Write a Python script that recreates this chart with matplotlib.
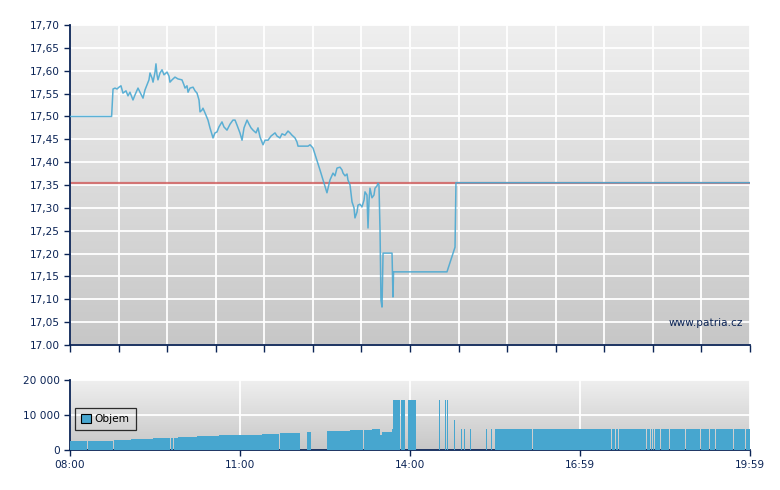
import numpy as np
import matplotlib
matplotlib.use("Agg")
import matplotlib.pyplot as plt
from matplotlib.colors import LinearSegmentedColormap
from matplotlib.patches import Patch

# ---- data ----
# minutes after 08:00
price_t = [0, 44, 45.5, 47.6, 49.7, 51.8, 53.9, 56.0, 59.2, 61.3, 63.4, 66.6, 68.7, 71.9, 74.0, 77.2,
           79.3, 81.4, 83.5, 84.6, 86.7, 87.8, 89.9, 90.9, 92.0, 93.0, 95.2, 97.3, 99.4, 102.6, 104.7,
           105.7, 107.9, 111.0, 114.2, 118.4, 120.5, 121.6, 123.7, 124.8, 126.9, 130.1, 132.2, 134.3,
           136.4, 137.5, 139.6, 140.6, 142.7, 145.9, 148.0, 151.2, 153.3, 155.4, 157.5, 160.7, 162.8,
           166.0, 169.2, 172.3, 174.5, 176.6, 179.7, 181.9, 184.0, 187.2, 189.3, 191.4, 193.5, 196.7,
           198.8, 200.9, 204.1, 206.2, 209.4, 212.5, 216.8, 218.9, 222.0, 224.2, 227.3, 230.5, 232.6,
           234.7, 237.9, 240.0, 241.1, 251.7, 253.8, 256.9, 264.3, 271.7, 274.9, 278.1, 280.2, 282.3,
           285.5, 287.6, 288.7, 290.8, 292.9, 293.9, 296.1, 298.2, 300.3, 301.3, 303.5, 304.5, 306.6,
           308.7, 310.9, 311.9, 314.0, 315.1, 316.2, 317.2, 319.3, 321.4, 322.5, 324.6, 325.7, 326.7,
           327.8, 328.8, 329.9, 331.0, 340.5, 341.5, 342.1, 398.6, 407.1, 408.1, 719]
price_v = [17.500, 17.500, 17.560, 17.562, 17.560, 17.564, 17.567, 17.551, 17.556, 17.545, 17.553,
           17.536, 17.547, 17.562, 17.553, 17.540, 17.558, 17.569, 17.580, 17.595, 17.584, 17.575,
           17.597, 17.615, 17.591, 17.580, 17.595, 17.602, 17.591, 17.597, 17.588, 17.575, 17.580,
           17.586, 17.582, 17.580, 17.569, 17.562, 17.567, 17.553, 17.562, 17.564, 17.556, 17.551,
           17.536, 17.510, 17.514, 17.518, 17.508, 17.492, 17.475, 17.453, 17.464, 17.466, 17.477,
           17.488, 17.477, 17.470, 17.483, 17.492, 17.492, 17.481, 17.464, 17.448, 17.475, 17.492,
           17.483, 17.475, 17.470, 17.464, 17.475, 17.455, 17.438, 17.448, 17.448, 17.457, 17.464,
           17.457, 17.453, 17.462, 17.459, 17.468, 17.464, 17.459, 17.453, 17.444, 17.435, 17.435,
           17.438, 17.431, 17.383, 17.333, 17.361, 17.376, 17.370, 17.387, 17.389, 17.383, 17.376,
           17.370, 17.374, 17.361, 17.350, 17.313, 17.300, 17.278, 17.291, 17.306, 17.308, 17.302,
           17.317, 17.335, 17.328, 17.256, 17.317, 17.343, 17.322, 17.328, 17.343, 17.348, 17.354,
           17.350, 17.252, 17.098, 17.083, 17.201, 17.201, 17.105, 17.160, 17.160, 17.214, 17.355,
           17.355]
ref_price = 17.355

vol_start = [0, 19, 46.5, 64.5, 88, 106.5, 110, 114, 134, 157.5, 203, 222, 250.5, 272, 296, 311,
             319, 328, 330, 340.5, 341.5, 350, 357.5, 390.5, 396.0, 398.1, 406.5, 413.0, 417.1,
             422.5, 439.4, 445.5,
             449.5, 490, 535.5, 573.5, 577, 580, 608.5, 610.5, 614, 616, 619, 624.5, 634, 651.5,
             667.5, 677, 683.5, 692, 702.5, 715]
vol_end = [18, 45, 64.5, 88, 106, 109, 114, 134, 157.5, 203, 221, 243, 255, 296, 310, 319,
           328, 330, 340.5, 341.5, 349, 354, 366, 391.56, 397.06, 399.16, 407.56, 414.06, 418.16,
           423.56, 440.46, 446.56,
           489, 534.5, 572.5, 576, 579, 607.5, 609.5, 613, 615, 618, 623.5, 633, 650.5, 666.5,
           676, 682.5, 691, 701.5, 714, 719.5]
vol_value = [2570, 2570, 2860, 3140, 3430, 3430, 3430, 3710, 4000, 4290, 4570, 4860, 5140, 5430,
             5710, 5710, 6000, 4290, 5140, 6000, 14290, 14290, 14290, 14290, 14290, 14290, 8570,
             6000, 6000, 6000, 6000, 6000,
             6000, 6000, 6000, 6000, 6000, 6000, 6000, 6000, 6000, 6000, 6000, 6000, 6000, 6000,
             6000, 6000, 6000, 6000, 6000, 6000]

price_ticks = [17.00, 17.05, 17.10, 17.15, 17.20, 17.25, 17.30, 17.35, 17.40, 17.45, 17.50, 17.55,
               17.60, 17.65, 17.70]
price_labels = ["17.00", "17,05", "17,10", "17,15", "17,20", "17,25", "17,30", "17,35", "17,40",
                "17,45", "17,50", "17,55", "17,60", "17,65", "17,70"]
time_ticks = [0, 180, 360, 539, 719]
time_labels = ["08:00", "11:00", "14:00", "16:59", "19:59"]
vol_ticks = [0, 10000, 20000]
vol_labels = ["0", "10 000", "20 000"]

# ---- style ----
NAVY = "#0b2456"
LINE = "#4ba9d2"
BAR = "#47a6cf"
plt.rcParams["font.family"] = ["DejaVu Sans"]
FS = 7.6

fig = plt.figure(figsize=(7.8, 4.9), dpi=100)
W, H = 780, 490
ax = fig.add_axes([70 / W, 1 - 345 / H, 680 / W, 320 / H])
axv = fig.add_axes([70 / W, 1 - 450 / H, 680 / W, 70 / H])

grad = np.linspace(0, 1, 256).reshape(-1, 1)
cmap = LinearSegmentedColormap.from_list("g", ["#efefef", "#c7c7c7"])
for a in (ax, axv):
    a.imshow(grad, cmap=cmap, extent=[0, 1, 0, 1], transform=a.transAxes,
             aspect="auto", zorder=0, origin="upper")
    for s in ("top", "right"):
        a.spines[s].set_visible(False)
    for s in ("left", "bottom"):
        a.spines[s].set_color(NAVY)
        a.spines[s].set_linewidth(1.3)
    a.tick_params(colors=NAVY, labelcolor=NAVY, labelsize=FS, length=4, width=1)

# main price chart
gridx = np.linspace(0, 719, 15)
ax.set_xlim(0, 719)
ax.set_ylim(17.0, 17.70)
ax.set_xticks(gridx)
ax.set_xticklabels([])
ax.tick_params(axis="x", length=5)
ax.set_yticks(price_ticks)
ax.set_yticklabels(price_labels)
ax.grid(True, color="white", linewidth=1.3, zorder=1)
ax.set_axisbelow(True)
ax.axhline(ref_price, color="#d05a5a", linewidth=1.6, alpha=0.8, zorder=2)
ax.plot(price_t, price_v, color=LINE, linewidth=1.1, zorder=3, alpha=0.9)
ax.text(0.99, 0.069, "www.patria.cz", transform=ax.transAxes, ha="right", va="center",
        color=NAVY, fontsize=FS, zorder=4)

# volume chart
axv.set_xlim(0, 719)
axv.set_ylim(0, 20000)
widths = [e - s for s, e in zip(vol_start, vol_end)]
axv.bar(vol_start, vol_value, width=widths, align="edge", color=BAR, linewidth=0, zorder=3,
        antialiased=False)
axv.set_xticks(time_ticks)
axv.set_xticklabels(time_labels)
axv.set_yticks(vol_ticks)
axv.set_yticklabels(vol_labels)
axv.grid(True, color="white", linewidth=1.3, zorder=1)
axv.set_axisbelow(True)
leg = axv.legend(handles=[Patch(facecolor=BAR, edgecolor="black", linewidth=0.8, label="Objem")],
                 loc="center left", bbox_to_anchor=(0.007, 0.443), fontsize=FS,
                 frameon=True, fancybox=False, handlelength=0.9, handleheight=0.9,
                 handletextpad=0.4, borderpad=0.6, borderaxespad=0)
leg.get_frame().set_edgecolor("black")
leg.get_frame().set_facecolor("none")
leg.get_frame().set_linewidth(0.9)
leg.set_zorder(5)

fig.savefig("out.png", dpi=100)
